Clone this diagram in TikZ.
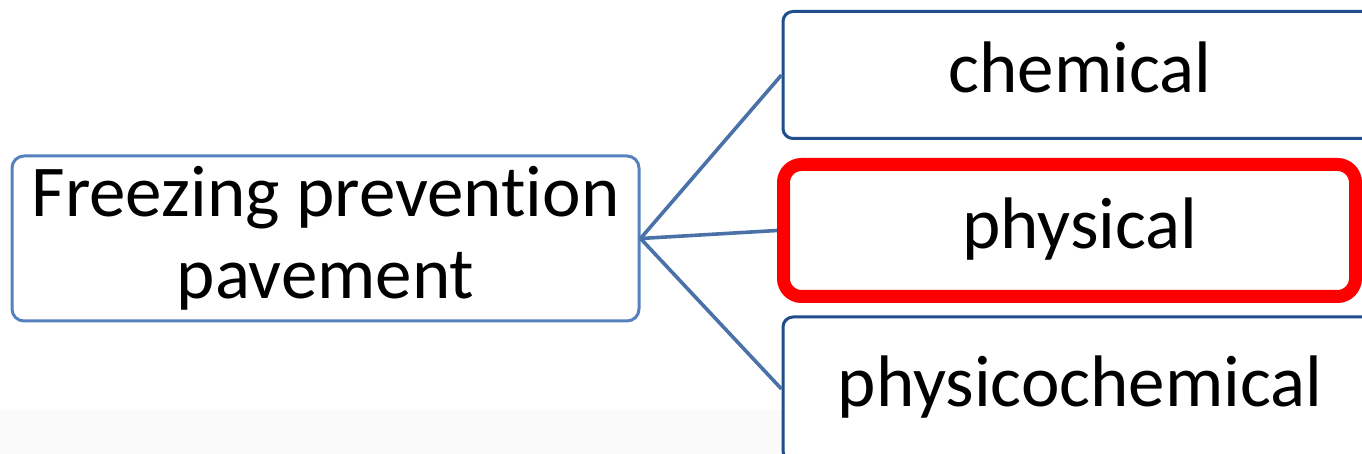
\documentclass[tikz,border=0pt]{standalone}
\usepackage{fontspec}
\setmainfont{Carlito}[Ligatures={NoCommon}]
\definecolor{lightblue}{HTML}{5581BE}
\definecolor{darkblue}{HTML}{1F4E8A}
\definecolor{linkblue}{HTML}{4A72A8}
\definecolor{bandgray}{HTML}{FAFAFA}
\tikzset{
  rootbox/.style={draw=lightblue, line width=1.5pt, rounded corners=6pt, fill=white,
    minimum width=313.5pt, minimum height=82.5pt, inner sep=0pt, align=center,
    font=\fontsize{36.5}{41}\selectfont},
  leafbox/.style={draw=darkblue, line width=1.5pt, rounded corners=5pt, fill=white,
    minimum width=297pt, inner sep=0pt, text height=25.5pt, text depth=7.5pt,
    font=\fontsize{36.5}{41}\selectfont},
  hlbox/.style={draw=red, line width=6.5pt, rounded corners=9pt,
    minimum width=286pt, minimum height=66pt, inner sep=0pt},
  link/.style={draw=linkblue, line width=1.8pt}
}
\begin{document}
\begin{tikzpicture}[x=0.5pt, y=-0.5pt]
\useasboundingbox (0,0) rectangle (1362,454);
\clip (0,0) rectangle (1362,454);
\fill[bandgray] (0,410) rectangle (1362,454);
\node[rootbox] (fp) at (325.5,238.5) {Freezing prevention\\pavement};
\node[leafbox, minimum height=63.5pt] (ch) at (1080,75) {chemical};
\node[hlbox, fill=white] (hl) at (1069.5,230.5) {};
\node[leafbox, draw=none, fill=none, minimum height=65.5pt] (ph) at (1080,230.5) {physical};
\node[leafbox, minimum height=72pt] (pc) at (1080,389) {physicochemical};
\draw[link] (fp.east) -- (ch.west);
\draw[link] (fp.east) -- (hl.west);
\draw[link] (fp.east) -- (pc.west);
\end{tikzpicture}
\end{document}
